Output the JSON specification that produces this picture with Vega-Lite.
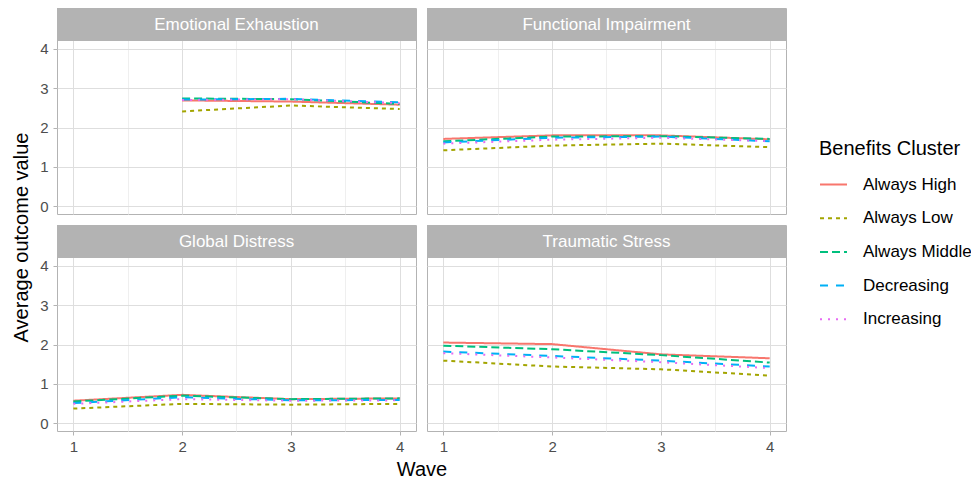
{
  "$schema": "https://vega.github.io/schema/vega-lite/v6.json",
  "padding": {"left": 10, "top": 7, "right": 0, "bottom": 0},
  "config": {
    "font": "Liberation Sans",
    "axis": {"domain": false, "tickColor": "#b3b3b3", "tickSize": 4, "labelColor": "#4d4d4d", "labelFontSize": 15, "titleFontSize": 20, "titleFontWeight": "normal", "titleColor": "#000000", "gridWidth": 1}
  },
  "datasets": {
    "d": [
      {"panel": "Emotional Exhaustion", "cluster": "Always High", "wave": 2, "value": 2.69},
      {"panel": "Emotional Exhaustion", "cluster": "Always High", "wave": 3, "value": 2.66},
      {"panel": "Emotional Exhaustion", "cluster": "Always High", "wave": 4, "value": 2.58},
      {"panel": "Emotional Exhaustion", "cluster": "Always Low", "wave": 2, "value": 2.41},
      {"panel": "Emotional Exhaustion", "cluster": "Always Low", "wave": 3, "value": 2.56},
      {"panel": "Emotional Exhaustion", "cluster": "Always Low", "wave": 4, "value": 2.47},
      {"panel": "Emotional Exhaustion", "cluster": "Always Middle", "wave": 2, "value": 2.74},
      {"panel": "Emotional Exhaustion", "cluster": "Always Middle", "wave": 3, "value": 2.72},
      {"panel": "Emotional Exhaustion", "cluster": "Always Middle", "wave": 4, "value": 2.60},
      {"panel": "Emotional Exhaustion", "cluster": "Decreasing", "wave": 2, "value": 2.71},
      {"panel": "Emotional Exhaustion", "cluster": "Decreasing", "wave": 3, "value": 2.73},
      {"panel": "Emotional Exhaustion", "cluster": "Decreasing", "wave": 4, "value": 2.64},
      {"panel": "Emotional Exhaustion", "cluster": "Increasing", "wave": 2, "value": 2.70},
      {"panel": "Emotional Exhaustion", "cluster": "Increasing", "wave": 3, "value": 2.72},
      {"panel": "Emotional Exhaustion", "cluster": "Increasing", "wave": 4, "value": 2.62},
      {"panel": "Functional Impairment", "cluster": "Always High", "wave": 1, "value": 1.71},
      {"panel": "Functional Impairment", "cluster": "Always High", "wave": 2, "value": 1.80},
      {"panel": "Functional Impairment", "cluster": "Always High", "wave": 3, "value": 1.80},
      {"panel": "Functional Impairment", "cluster": "Always High", "wave": 4, "value": 1.70},
      {"panel": "Functional Impairment", "cluster": "Always Low", "wave": 1, "value": 1.42},
      {"panel": "Functional Impairment", "cluster": "Always Low", "wave": 2, "value": 1.54},
      {"panel": "Functional Impairment", "cluster": "Always Low", "wave": 3, "value": 1.59},
      {"panel": "Functional Impairment", "cluster": "Always Low", "wave": 4, "value": 1.50},
      {"panel": "Functional Impairment", "cluster": "Always Middle", "wave": 1, "value": 1.65},
      {"panel": "Functional Impairment", "cluster": "Always Middle", "wave": 2, "value": 1.77},
      {"panel": "Functional Impairment", "cluster": "Always Middle", "wave": 3, "value": 1.78},
      {"panel": "Functional Impairment", "cluster": "Always Middle", "wave": 4, "value": 1.71},
      {"panel": "Functional Impairment", "cluster": "Decreasing", "wave": 1, "value": 1.62},
      {"panel": "Functional Impairment", "cluster": "Decreasing", "wave": 2, "value": 1.74},
      {"panel": "Functional Impairment", "cluster": "Decreasing", "wave": 3, "value": 1.77},
      {"panel": "Functional Impairment", "cluster": "Decreasing", "wave": 4, "value": 1.65},
      {"panel": "Functional Impairment", "cluster": "Increasing", "wave": 1, "value": 1.59},
      {"panel": "Functional Impairment", "cluster": "Increasing", "wave": 2, "value": 1.69},
      {"panel": "Functional Impairment", "cluster": "Increasing", "wave": 3, "value": 1.74},
      {"panel": "Functional Impairment", "cluster": "Increasing", "wave": 4, "value": 1.65},
      {"panel": "Global Distress", "cluster": "Always High", "wave": 1, "value": 0.57},
      {"panel": "Global Distress", "cluster": "Always High", "wave": 2, "value": 0.72},
      {"panel": "Global Distress", "cluster": "Always High", "wave": 3, "value": 0.61},
      {"panel": "Global Distress", "cluster": "Always High", "wave": 4, "value": 0.63},
      {"panel": "Global Distress", "cluster": "Always Low", "wave": 1, "value": 0.37},
      {"panel": "Global Distress", "cluster": "Always Low", "wave": 2, "value": 0.49},
      {"panel": "Global Distress", "cluster": "Always Low", "wave": 3, "value": 0.47},
      {"panel": "Global Distress", "cluster": "Always Low", "wave": 4, "value": 0.49},
      {"panel": "Global Distress", "cluster": "Always Middle", "wave": 1, "value": 0.55},
      {"panel": "Global Distress", "cluster": "Always Middle", "wave": 2, "value": 0.70},
      {"panel": "Global Distress", "cluster": "Always Middle", "wave": 3, "value": 0.61},
      {"panel": "Global Distress", "cluster": "Always Middle", "wave": 4, "value": 0.63},
      {"panel": "Global Distress", "cluster": "Decreasing", "wave": 1, "value": 0.51},
      {"panel": "Global Distress", "cluster": "Decreasing", "wave": 2, "value": 0.66},
      {"panel": "Global Distress", "cluster": "Decreasing", "wave": 3, "value": 0.58},
      {"panel": "Global Distress", "cluster": "Decreasing", "wave": 4, "value": 0.59},
      {"panel": "Global Distress", "cluster": "Increasing", "wave": 1, "value": 0.49},
      {"panel": "Global Distress", "cluster": "Increasing", "wave": 2, "value": 0.61},
      {"panel": "Global Distress", "cluster": "Increasing", "wave": 3, "value": 0.57},
      {"panel": "Global Distress", "cluster": "Increasing", "wave": 4, "value": 0.58},
      {"panel": "Traumatic Stress", "cluster": "Always High", "wave": 1, "value": 2.05},
      {"panel": "Traumatic Stress", "cluster": "Always High", "wave": 2, "value": 2.01},
      {"panel": "Traumatic Stress", "cluster": "Always High", "wave": 3, "value": 1.75},
      {"panel": "Traumatic Stress", "cluster": "Always High", "wave": 4, "value": 1.65},
      {"panel": "Traumatic Stress", "cluster": "Always Low", "wave": 1, "value": 1.59},
      {"panel": "Traumatic Stress", "cluster": "Always Low", "wave": 2, "value": 1.44},
      {"panel": "Traumatic Stress", "cluster": "Always Low", "wave": 3, "value": 1.37},
      {"panel": "Traumatic Stress", "cluster": "Always Low", "wave": 4, "value": 1.21},
      {"panel": "Traumatic Stress", "cluster": "Always Middle", "wave": 1, "value": 1.97},
      {"panel": "Traumatic Stress", "cluster": "Always Middle", "wave": 2, "value": 1.88},
      {"panel": "Traumatic Stress", "cluster": "Always Middle", "wave": 3, "value": 1.73},
      {"panel": "Traumatic Stress", "cluster": "Always Middle", "wave": 4, "value": 1.54},
      {"panel": "Traumatic Stress", "cluster": "Decreasing", "wave": 1, "value": 1.82},
      {"panel": "Traumatic Stress", "cluster": "Decreasing", "wave": 2, "value": 1.71},
      {"panel": "Traumatic Stress", "cluster": "Decreasing", "wave": 3, "value": 1.59},
      {"panel": "Traumatic Stress", "cluster": "Decreasing", "wave": 4, "value": 1.44},
      {"panel": "Traumatic Stress", "cluster": "Increasing", "wave": 1, "value": 1.78},
      {"panel": "Traumatic Stress", "cluster": "Increasing", "wave": 2, "value": 1.67},
      {"panel": "Traumatic Stress", "cluster": "Increasing", "wave": 3, "value": 1.55},
      {"panel": "Traumatic Stress", "cluster": "Increasing", "wave": 4, "value": 1.40}
    ]
  },
  "data": {"name": "d"},
  "bounds": "flush",
  "columns": 2,
  "spacing": 11,
  "concat": [
    {
      "width": 359, "height": 206, "view": {"stroke": "#b3b3b3", "strokeWidth": 1},
      "layer": [
        {"transform": [{"filter": "datum.panel === 'Emotional Exhaustion'"}],
         "mark": {"type": "line", "strokeWidth": 2},
         "encoding": {
           "x": {"field": "wave", "type": "quantitative", "scale": {"domain": [0.85, 4.15], "nice": false, "zero": false},
                 "axis": {"title": null, "values": [1, 1.5, 2, 2.5, 3, 3.5, 4], "labels": false, "ticks": false,
                          "gridColor": {"condition": {"test": "datum.value % 1 !== 0", "value": "#efefef"}, "value": "#dedede"}}},
           "y": {"field": "value", "type": "quantitative", "scale": {"domain": [-0.2, 5.04], "nice": false, "zero": false},
                 "axis": {"title": "Average outcome value", "titleX": -36, "titleY": 229, "titleBaseline": "middle", "titleAngle": 270,
                          "values": [0, 0.5, 1, 1.5, 2, 2.5, 3, 3.5, 4], "labelPadding": 5,
                          "labelExpr": "datum.value % 1 === 0 ? format(datum.value, 'd') : ''",
                          "tickOpacity": {"condition": {"test": "datum.value % 1 !== 0", "value": 0}, "value": 1},
                          "gridColor": {"condition": {"test": "datum.value % 1 !== 0", "value": "#efefef"}, "value": "#dedede"}}},
           "color": {"field": "cluster", "type": "nominal",
                     "scale": {"domain": ["Always High", "Always Low", "Always Middle", "Decreasing", "Increasing"], "range": ["#F8766D", "#A3A500", "#00BF7D", "#00B0F6", "#E76BF3"]},
                     "legend": {"title": "Benefits Cluster", "orient": "none", "legendX": 762, "legendY": 131, "titleFontSize": 20, "titleFontWeight": "normal", "titleColor": "#000000", "titlePadding": 11, "labelFontSize": 17, "labelColor": "#000000", "labelOffset": 15, "symbolType": "stroke", "symbolSize": 729, "symbolStrokeWidth": 2, "rowPadding": 10.7}},
           "strokeDash": {"field": "cluster", "type": "nominal",
                     "scale": {"domain": ["Always High", "Always Low", "Always Middle", "Decreasing", "Increasing"], "range": [[1, 0], [4, 4], [8, 4], [8, 8], [2, 6]]},
                     "legend": {"title": "Benefits Cluster", "orient": "none", "legendX": 762, "legendY": 131, "titleFontSize": 20, "titleFontWeight": "normal", "titleColor": "#000000", "titlePadding": 11, "labelFontSize": 17, "labelColor": "#000000", "labelOffset": 15, "symbolType": "stroke", "symbolSize": 729, "symbolStrokeWidth": 2, "rowPadding": 10.7}}
         }},
        {"data": {"values": [{"panel": "Emotional Exhaustion"}]},
         "mark": {"type": "rect", "color": "#b3b3b3"},
         "encoding": {"x": {"datum": 0.85}, "x2": {"datum": 4.15}, "y": {"datum": 4.2}, "y2": {"datum": 5.04}}},
        {"data": {"values": [{"panel": "Emotional Exhaustion"}]},
         "mark": {"type": "text", "color": "#ffffff", "fontSize": 17, "baseline": "middle"},
         "encoding": {"x": {"datum": 2.5}, "y": {"datum": 4.62}, "text": {"field": "panel"}}}
      ]
    },
    {
      "width": 359, "height": 206, "view": {"stroke": "#b3b3b3", "strokeWidth": 1},
      "layer": [
        {"transform": [{"filter": "datum.panel === 'Functional Impairment'"}],
         "mark": {"type": "line", "strokeWidth": 2},
         "encoding": {
           "x": {"field": "wave", "type": "quantitative", "scale": {"domain": [0.85, 4.15], "nice": false, "zero": false},
                 "axis": {"title": null, "values": [1, 1.5, 2, 2.5, 3, 3.5, 4], "labels": false, "ticks": false,
                          "gridColor": {"condition": {"test": "datum.value % 1 !== 0", "value": "#efefef"}, "value": "#dedede"}}},
           "y": {"field": "value", "type": "quantitative", "scale": {"domain": [-0.2, 5.04], "nice": false, "zero": false},
                 "axis": {"title": null, "values": [0, 0.5, 1, 1.5, 2, 2.5, 3, 3.5, 4], "labels": false, "ticks": false,
                          "gridColor": {"condition": {"test": "datum.value % 1 !== 0", "value": "#efefef"}, "value": "#dedede"}}},
           "color": {"field": "cluster", "type": "nominal"},
           "strokeDash": {"field": "cluster", "type": "nominal"}
         }},
        {"data": {"values": [{"panel": "Functional Impairment"}]},
         "mark": {"type": "rect", "color": "#b3b3b3"},
         "encoding": {"x": {"datum": 0.85}, "x2": {"datum": 4.15}, "y": {"datum": 4.2}, "y2": {"datum": 5.04}}},
        {"data": {"values": [{"panel": "Functional Impairment"}]},
         "mark": {"type": "text", "color": "#ffffff", "fontSize": 17, "baseline": "middle"},
         "encoding": {"x": {"datum": 2.5}, "y": {"datum": 4.62}, "text": {"field": "panel"}}}
      ]
    },
    {
      "width": 359, "height": 206, "view": {"stroke": "#b3b3b3", "strokeWidth": 1},
      "layer": [
        {"transform": [{"filter": "datum.panel === 'Global Distress'"}],
         "mark": {"type": "line", "strokeWidth": 2},
         "encoding": {
           "x": {"field": "wave", "type": "quantitative", "scale": {"domain": [0.85, 4.15], "nice": false, "zero": false},
                 "axis": {"title": "Wave", "titleX": 364.5, "titleY": 38, "titleBaseline": "middle",
                          "values": [1, 1.5, 2, 2.5, 3, 3.5, 4], "labelPadding": 4,
                          "labelExpr": "datum.value % 1 === 0 ? format(datum.value, 'd') : ''",
                          "tickOpacity": {"condition": {"test": "datum.value % 1 !== 0", "value": 0}, "value": 1},
                          "gridColor": {"condition": {"test": "datum.value % 1 !== 0", "value": "#efefef"}, "value": "#dedede"}}},
           "y": {"field": "value", "type": "quantitative", "scale": {"domain": [-0.2, 5.04], "nice": false, "zero": false},
                 "axis": {"title": null, "values": [0, 0.5, 1, 1.5, 2, 2.5, 3, 3.5, 4], "labelPadding": 5,
                          "labelExpr": "datum.value % 1 === 0 ? format(datum.value, 'd') : ''",
                          "tickOpacity": {"condition": {"test": "datum.value % 1 !== 0", "value": 0}, "value": 1},
                          "gridColor": {"condition": {"test": "datum.value % 1 !== 0", "value": "#efefef"}, "value": "#dedede"}}},
           "color": {"field": "cluster", "type": "nominal"},
           "strokeDash": {"field": "cluster", "type": "nominal"}
         }},
        {"data": {"values": [{"panel": "Global Distress"}]},
         "mark": {"type": "rect", "color": "#b3b3b3"},
         "encoding": {"x": {"datum": 0.85}, "x2": {"datum": 4.15}, "y": {"datum": 4.2}, "y2": {"datum": 5.04}}},
        {"data": {"values": [{"panel": "Global Distress"}]},
         "mark": {"type": "text", "color": "#ffffff", "fontSize": 17, "baseline": "middle"},
         "encoding": {"x": {"datum": 2.5}, "y": {"datum": 4.62}, "text": {"field": "panel"}}}
      ]
    },
    {
      "width": 359, "height": 206, "view": {"stroke": "#b3b3b3", "strokeWidth": 1},
      "layer": [
        {"transform": [{"filter": "datum.panel === 'Traumatic Stress'"}],
         "mark": {"type": "line", "strokeWidth": 2},
         "encoding": {
           "x": {"field": "wave", "type": "quantitative", "scale": {"domain": [0.85, 4.15], "nice": false, "zero": false},
                 "axis": {"title": null, "values": [1, 1.5, 2, 2.5, 3, 3.5, 4], "labelPadding": 4,
                          "labelExpr": "datum.value % 1 === 0 ? format(datum.value, 'd') : ''",
                          "tickOpacity": {"condition": {"test": "datum.value % 1 !== 0", "value": 0}, "value": 1},
                          "gridColor": {"condition": {"test": "datum.value % 1 !== 0", "value": "#efefef"}, "value": "#dedede"}}},
           "y": {"field": "value", "type": "quantitative", "scale": {"domain": [-0.2, 5.04], "nice": false, "zero": false},
                 "axis": {"title": null, "values": [0, 0.5, 1, 1.5, 2, 2.5, 3, 3.5, 4], "labels": false, "ticks": false,
                          "gridColor": {"condition": {"test": "datum.value % 1 !== 0", "value": "#efefef"}, "value": "#dedede"}}},
           "color": {"field": "cluster", "type": "nominal"},
           "strokeDash": {"field": "cluster", "type": "nominal"}
         }},
        {"data": {"values": [{"panel": "Traumatic Stress"}]},
         "mark": {"type": "rect", "color": "#b3b3b3"},
         "encoding": {"x": {"datum": 0.85}, "x2": {"datum": 4.15}, "y": {"datum": 4.2}, "y2": {"datum": 5.04}}},
        {"data": {"values": [{"panel": "Traumatic Stress"}]},
         "mark": {"type": "text", "color": "#ffffff", "fontSize": 17, "baseline": "middle"},
         "encoding": {"x": {"datum": 2.5}, "y": {"datum": 4.62}, "text": {"field": "panel"}}}
      ]
    }
  ]
}
